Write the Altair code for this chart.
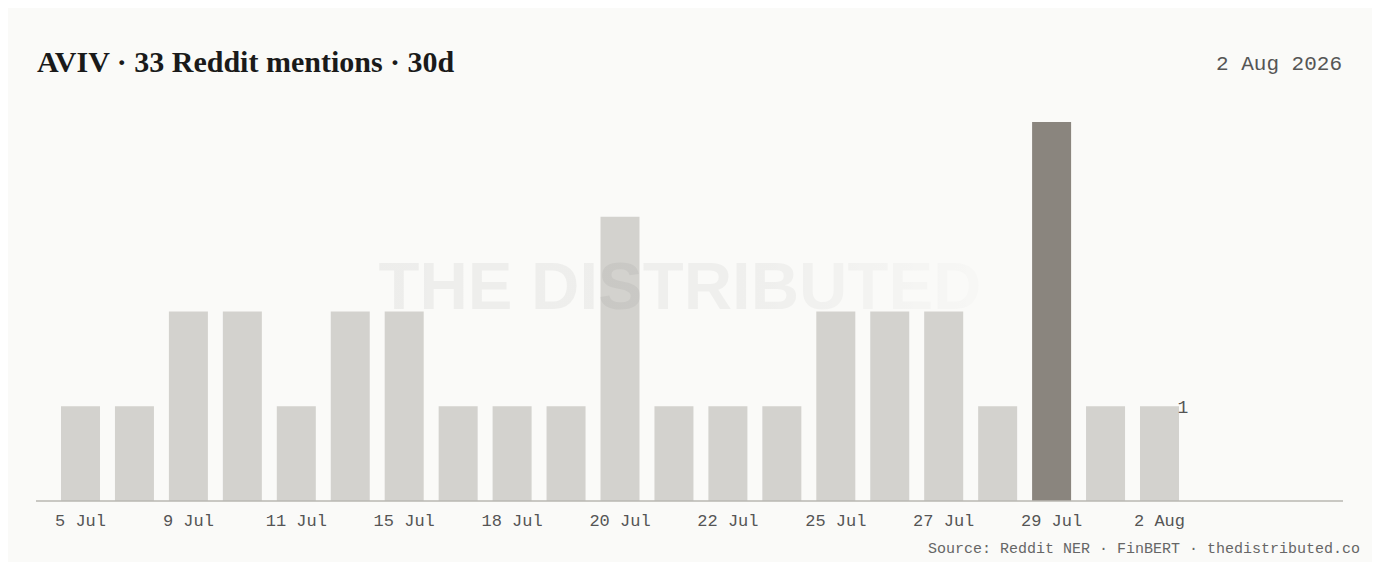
import altair as alt
import pandas as pd

dates = ["5 Jul", "7 Jul", "9 Jul", "10 Jul", "11 Jul", "13 Jul", "15 Jul",
         "16 Jul", "18 Jul", "19 Jul", "20 Jul", "21 Jul", "22 Jul", "24 Jul",
         "25 Jul", "26 Jul", "27 Jul", "28 Jul", "29 Jul", "31 Jul", "2 Aug"]
mentions = [1, 1, 2, 2, 1, 2, 2, 1, 1, 1, 3, 1, 1, 1, 2, 2, 2, 1, 4, 1, 1]
labelled = ["5 Jul", "9 Jul", "11 Jul", "15 Jul", "18 Jul", "20 Jul",
            "22 Jul", "25 Jul", "27 Jul", "29 Jul", "2 Aug"]
peak_date = "29 Jul"

title_text = "AVIV · 33 Reddit mentions · 30d"
date_text = "2 Aug 2026"
source_text = "Source: Reddit NER · FinBERT · thedistributed.co"
watermark_text = "THE DISTRIBUTED"

df = pd.DataFrame({"date": dates, "mentions": mentions})
df["peak"] = df["date"] == peak_date

W, H = 1307, 379
MONO = "Liberation Mono"

xscale = alt.Scale(domain=dates, range=[25, 1143], paddingInner=0.277,
                   paddingOuter=0, round=False)
yscale = alt.Scale(domain=[0, 4], nice=False)

base = alt.Chart(df)

bars = base.mark_bar().encode(
    x=alt.X("date:N", scale=xscale, sort=dates, title=None,
            axis=alt.Axis(values=labelled, ticks=False, domain=False,
                          labelFont=MONO, labelFontSize=17, labelColor="#555555",
                          labelPadding=11, labelAngle=0, grid=False)),
    y=alt.Y("mentions:Q", scale=yscale, axis=None),
    color=alt.condition(alt.datum.peak, alt.value("#8a857e"), alt.value("#d3d2ce")),
)

baseline = alt.Chart(pd.DataFrame({"v": [0]})).mark_rule(
    color="#b8b7b2", strokeWidth=1.5
).encode(x=alt.value(0), x2=alt.value(W), y=alt.value(H))

last = df.iloc[[-1]]
last_label = alt.Chart(last).mark_text(
    align="left", baseline="middle", font=MONO, fontSize=18, color="#555555",
    dx=18, dy=2
).encode(
    x=alt.X("date:N", scale=xscale, sort=dates),
    y=alt.Y("mentions:Q", scale=yscale),
    text=alt.Text("mentions:Q"),
)

watermark = alt.Chart(pd.DataFrame({"t": [watermark_text]})).mark_text(
    align="center", baseline="alphabetic", font="Liberation Sans", fontWeight="bold",
    fontSize=67,
    fill={"gradient": "linear", "x1": 0, "y1": 0, "x2": 1, "y2": 0,
          "stops": [{"offset": 0, "color": "rgba(0,0,0,0.05)"},
                    {"offset": 0.65, "color": "rgba(0,0,0,0.045)"},
                    {"offset": 1, "color": "rgba(0,0,0,0.01)"}]},
).encode(x=alt.value(644), y=alt.value(187), text="t:N")

title = alt.Chart(pd.DataFrame({"t": [title_text]})).mark_text(
    align="left", baseline="alphabetic", font="Liberation Serif", fontWeight="bold",
    fontSize=30, color="#1a1a1a",
).encode(x=alt.value(1), y=alt.value(-50), text="t:N")

date_lbl = alt.Chart(pd.DataFrame({"t": [date_text]})).mark_text(
    align="right", baseline="alphabetic", font=MONO, fontSize=21, color="#555555",
).encode(x=alt.value(1306), y=alt.value(-52), text="t:N")

source = alt.Chart(pd.DataFrame({"t": [source_text]})).mark_text(
    align="right", baseline="alphabetic", font=MONO, fontSize=15, color="#666666",
).encode(x=alt.value(1324), y=alt.value(431), text="t:N")

chart = alt.layer(bars, baseline, last_label, watermark, title, date_lbl, source).properties(
    width=W, height=H,
    autosize=alt.AutoSizeParams(type="none"),
    padding={"left": 28, "top": 114, "right": 29, "bottom": 61},
    background="#fafaf8",
).configure_view(stroke=None)

chart.save("out.html", embed_options={"renderer": "svg", "actions": False})
